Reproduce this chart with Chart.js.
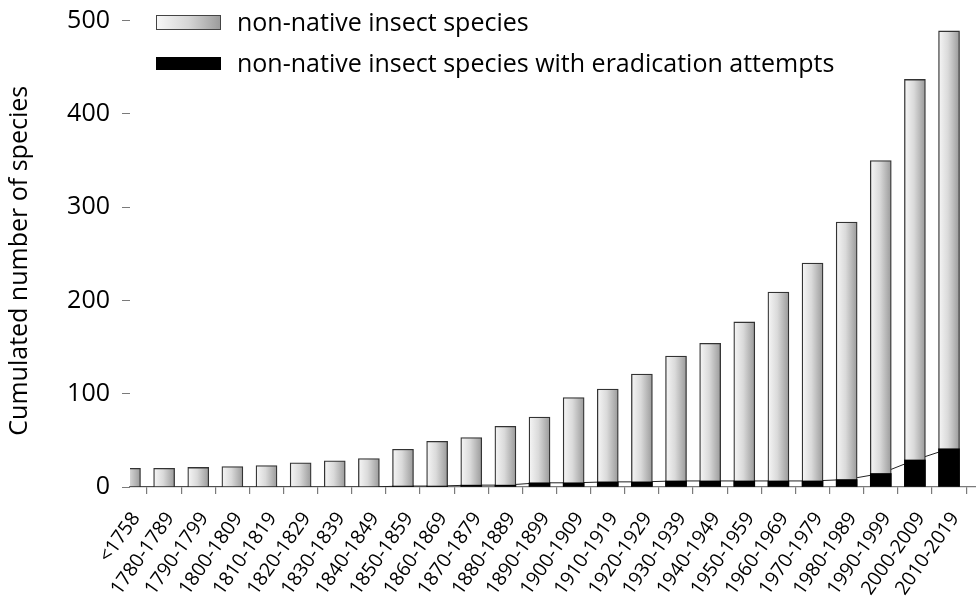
<!DOCTYPE html>
<html><head><meta charset="utf-8">
<script src="https://cdn.jsdelivr.net/npm/chart.js@4.4.1/dist/chart.umd.min.js"></script>
<style>html,body{margin:0;padding:0;background:#fff}#wrap{width:976px;height:598px}</style>
</head><body><div id="wrap"><canvas id="c" width="976" height="598"></canvas></div>
<script>
const categories = ['<1758','1780-1789','1790-1799','1800-1809','1810-1819','1820-1829','1830-1839','1840-1849','1850-1859','1860-1869','1870-1879','1880-1889','1890-1899','1900-1909','1910-1919','1920-1929','1930-1939','1940-1949','1950-1959','1960-1969','1970-1979','1980-1989','1990-1999','2000-2009','2010-2019'];
const totalSpecies = [20,20,21,22,23,26,28,30.5,40.5,49,53,65,75,96,105,121,140.5,154,177,209,240,284,350,437,489];
const eradicationSpecies = [0,0,0,0,0,0,0,0,1,1,2,2,4.5,4.5,5.5,5.5,6.5,6.5,6.5,6.5,6.5,8,14.5,29,41];
const yTickStep = 100;
const legendLabels = ['non-native insect species','non-native insect species with eradication attempts'];
const yAxisTitle = 'Cumulated number of species';

Chart.defaults.font.family = "'Open Sans', sans-serif";
Chart.defaults.color = '#000';

const toPoints = arr => arr.map((v, i) => ({x: i, y: v}));

function barGradient(ctx) {
  const chart = ctx.chart, xs = chart.scales.x;
  if (!xs || ctx.type !== 'data') return '#d0d0d0';
  const cx = xs.getPixelForValue(ctx.dataIndex);
  const g = chart.ctx.createLinearGradient(cx - 10.5, 0, cx + 10.5, 0);
  g.addColorStop(0, '#f6f6f6');
  g.addColorStop(0.45, '#dadada');
  g.addColorStop(1, '#9a9a9a');
  return g;
}

function legendPattern(chart, kind) {
  const off = document.createElement('canvas');
  off.width = 976; off.height = 598;
  const c = off.getContext('2d');
  if (kind === 0) {
    const g = c.createLinearGradient(156, 0, 221, 0);
    g.addColorStop(0, '#f8f8f8'); g.addColorStop(0.5, '#d6d6d6'); g.addColorStop(1, '#9a9a9a');
    c.fillStyle = g; c.fillRect(156.5, 15.5, 64, 14);
    c.strokeStyle = '#444'; c.lineWidth = 1; c.strokeRect(156.5, 15.5, 64, 14);
  } else {
    c.fillStyle = '#000'; c.fillRect(156, 57, 65, 13);
  }
  return chart.ctx.createPattern(off, 'no-repeat');
}

new Chart(document.getElementById('c'), {
  type: 'bar',
  data: {
    datasets: [
      {type: 'bar', label: legendLabels[0], data: toPoints(totalSpecies), backgroundColor: barGradient,
       borderColor: '#333', borderWidth: 1.3, grouped: false, order: 1, clip: 0, barThickness: 21},
      {type: 'bar', label: legendLabels[1], data: toPoints(eradicationSpecies), backgroundColor: '#000',
       borderWidth: 0, grouped: false, order: 0, clip: 0, barThickness: 21},
      {type: 'line', label: 'trend', data: toPoints(eradicationSpecies), borderColor: '#222', borderWidth: 1,
       pointRadius: 0, tension: 0, fill: false, order: 2}
    ]
  },
  options: {
    responsive: false, animation: false, devicePixelRatio: 1,
    layout: {padding: {top: 2, left: 0, right: 0, bottom: 0}},
    scales: {
      x: {
        type: 'linear', min: 0, max: 24.79, offset: false,
        grid: {drawOnChartArea: false, drawTicks: true, tickLength: 7, color: '#7a7a7a', lineWidth: 1.2},
        border: {display: true, color: '#7a7a7a', width: 1.3},
        ticks: {stepSize: 1, includeBounds: false, autoSkip: false, maxRotation: 55, minRotation: 55,
                padding: 14, labelOffset: 6, font: {size: 19.5},
                callback: v => (Number.isInteger(v) ? (categories[v] ?? '') : '')},
        afterFit: s => { s.height = 111; s.paddingLeft = 0; s.paddingRight = 0; }
      },
      y: {
        min: 0, max: 520,
        grid: {drawOnChartArea: false, drawTicks: true, tickLength: 8, color: '#7a7a7a'},
        border: {display: false},
        ticks: {stepSize: yTickStep, includeBounds: false, padding: 12, font: {size: 25}},
        title: {display: true, text: yAxisTitle + '     ', font: {size: 25}, padding: {top: 5, bottom: 0}},
        afterFit: s => { s.width = 130; s.paddingTop = 0; s.paddingBottom = 0; }
      }
    },
    plugins: {
      tooltip: {enabled: false},
      legend: {
        position: 'chartArea', align: 'start',
        labels: {
          padding: 6, boxWidth: 88.5, boxHeight: 35, font: {size: 25}, color: '#000',
          generateLabels: chart => legendLabels.map((t, i) => ({
            text: t, fillStyle: legendPattern(chart, i), strokeStyle: 'rgba(0,0,0,0)', lineWidth: 0,
            hidden: false, datasetIndex: i, fontColor: '#000'
          }))
        }
      }
    }
  }
});
</script></body></html>
